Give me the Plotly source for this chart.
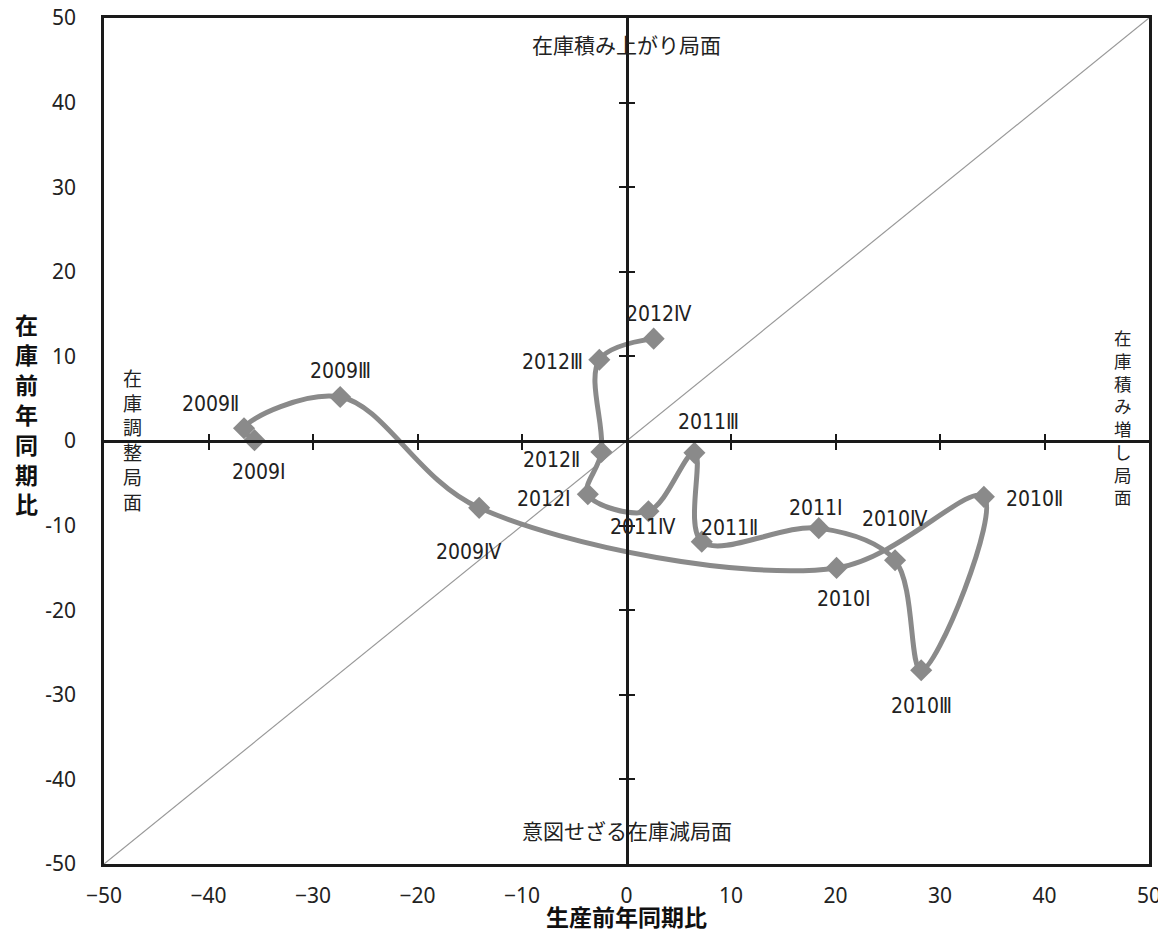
import plotly.graph_objects as go

# ---- data ----
labels = ["2009Ⅰ", "2009Ⅱ", "2009Ⅲ", "2009Ⅳ",
          "2010Ⅰ", "2010Ⅱ", "2010Ⅲ", "2010Ⅳ",
          "2011Ⅰ", "2011Ⅱ", "2011Ⅲ", "2011Ⅳ",
          "2012Ⅰ", "2012Ⅱ", "2012Ⅲ", "2012Ⅳ"]
production_yoy = [-35.6, -36.6, -27.4, -14.1,
                  20.1, 34.2, 28.2, 25.7,
                  18.4, 7.2, 6.5, 2.1,
                  -3.7, -2.4, -2.6, 2.6]
inventory_yoy = [0.1, 1.5, 5.2, -7.9,
                 -15.0, -6.6, -27.1, -14.1,
                 -10.3, -11.9, -1.4, -8.3,
                 -6.3, -1.3, 9.6, 12.1]
# label offsets in pixels (x, y up)
label_dx = [5, -34, 0, -10, 7, 51, 0, 0, -3, 28, 14, -5, -44, -50, -47, 5]
label_dy = [-32, 24, 26, -44, -31, -2, -36, 41, 20, 14, 31, -16, -5, -8, -2, 25]

diag = [-50, 50]
tick_vals = [-50, -40, -30, -20, -10, 0, 10, 20, 30, 40, 50]
x_tick_text = ["−50", "−40", "−30", "−20", "−10", "0", "10", "20", "30", "40", "50"]
y_tick_text = ["-50", "-40", "-30", "-20", "-10", "0", "10", "20", "30", "40", "50"]
inner_ticks = [-40, -30, -20, -10, 10, 20, 30, 40]

GRAY = "#8a8a8a"
LABEL_FONT = "DejaVu Sans Condensed, Liberation Sans Narrow, Noto Sans CJK JP, sans-serif"
JP_FONT = "Noto Sans CJK JP, sans-serif"

fig = go.Figure()

fig.add_trace(go.Scatter(x=diag, y=diag, mode="lines",
                         line=dict(color="#999999", width=1.2),
                         hoverinfo="skip", showlegend=False))

fig.add_trace(go.Scatter(x=production_yoy, y=inventory_yoy, mode="lines+markers",
                         line=dict(color=GRAY, width=5, shape="spline", smoothing=1),
                         marker=dict(symbol="diamond", size=17, color=GRAY),
                         showlegend=False))

# dummy traces so the overlaying zero-line axes are drawn
fig.add_trace(go.Scatter(x=[None], y=[None], xaxis="x2", yaxis="y", showlegend=False))
fig.add_trace(go.Scatter(x=[None], y=[None], xaxis="x3", yaxis="y", showlegend=False))
fig.add_trace(go.Scatter(x=[None], y=[None], xaxis="x", yaxis="y2", showlegend=False))
fig.add_trace(go.Scatter(x=[None], y=[None], xaxis="x", yaxis="y3", showlegend=False))

for lab, x, y, dx, dy in zip(labels, production_yoy, inventory_yoy, label_dx, label_dy):
    fig.add_annotation(x=x, y=y, text=lab, showarrow=False, xshift=dx, yshift=dy,
                       xanchor="center", yanchor="middle",
                       font=dict(family=LABEL_FONT, size=21, color="#222222"))

def paper_note(x, y, text, size, bold=False, color="#222222"):
    if bold:
        text = "<b>" + text + "</b>"
    fig.add_annotation(x=x, y=y, xref="paper", yref="paper", text=text,
                       showarrow=False, xanchor="center", yanchor="middle",
                       font=dict(family=JP_FONT, size=size, color=color))

# region labels
paper_note(0.5, 0.969, "在庫積み上がり局面", 21)
paper_note(0.5, 0.040, "意図せざる在庫減局面", 21)
paper_note(0.027, 0.502, "<br>".join("在庫調整局面"), 19)
paper_note(0.975, 0.528, "<br>".join("在庫積み増し局面"), 17.5)

# axis titles
paper_note(-0.074, 0.533, "<br>".join("在庫前年同期比"), 23, bold=True, color="#111111")
paper_note(0.5, -0.062, "生産前年同期比", 23, bold=True, color="#111111")

axis_common = dict(range=[-50, 50], showgrid=False, zeroline=False, fixedrange=True,
                   automargin=False)

fig.update_layout(
    width=1166, height=948,
    margin=dict(l=96, r=25, t=10, b=92, autoexpand=False),
    paper_bgcolor="white", plot_bgcolor="white",
    xaxis=dict(**axis_common, tickvals=tick_vals, ticktext=x_tick_text,
               showline=True, linecolor="#1a1a1a", linewidth=2.5, mirror=True,
               ticks="", ticklabelstandoff=11, ticklabeloverflow="allow",
               tickfont=dict(family="Noto Sans, sans-serif", size=21, color="#222222")),
    yaxis=dict(**axis_common, tickvals=tick_vals, ticktext=y_tick_text,
               showline=True, linecolor="#1a1a1a", linewidth=2.5, mirror=True,
               ticks="", ticklabelstandoff=21, ticklabeloverflow="allow",
               tickfont=dict(family="Noto Sans, sans-serif", size=21, color="#222222")),
    xaxis2=dict(**axis_common, overlaying="x", anchor="free", position=0.5, side="bottom",
                showline=True, linecolor="#1a1a1a", linewidth=2.5,
                tickvals=inner_ticks, ticks="outside", ticklen=7, tickwidth=1.5,
                tickcolor="#1a1a1a", showticklabels=False),
    xaxis3=dict(**axis_common, overlaying="x", anchor="free", position=0.5, side="bottom",
                showline=False,
                tickvals=inner_ticks, ticks="inside", ticklen=7, tickwidth=1.5,
                tickcolor="#1a1a1a", showticklabels=False),
    yaxis2=dict(**axis_common, overlaying="y", anchor="free", position=0.5, side="left",
                showline=True, linecolor="#1a1a1a", linewidth=2.5,
                tickvals=inner_ticks, ticks="outside", ticklen=7, tickwidth=1.5,
                tickcolor="#1a1a1a", showticklabels=False),
    yaxis3=dict(**axis_common, overlaying="y", anchor="free", position=0.5, side="left",
                showline=False,
                tickvals=inner_ticks, ticks="inside", ticklen=7, tickwidth=1.5,
                tickcolor="#1a1a1a", showticklabels=False),
)

fig.write_html("out.html")
